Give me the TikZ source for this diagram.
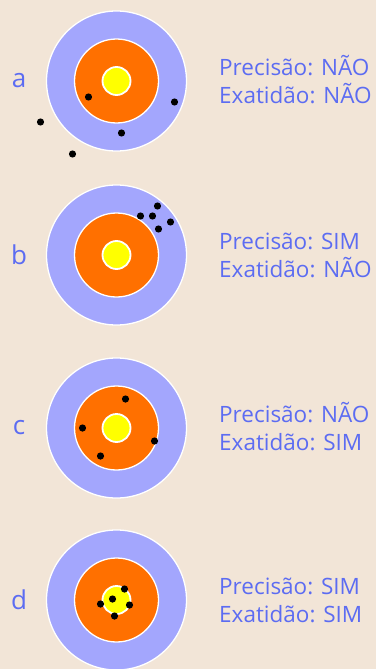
\documentclass[tikz,border=0pt]{standalone}
\usepackage{fontspec}
\setmainfont{Open Sans}
\usetikzlibrary{calc}
\definecolor{bgtan}{HTML}{F2E5D7}
\definecolor{ringblue}{HTML}{A3A6FD}
\definecolor{ringorange}{HTML}{FF7000}
\definecolor{ringyellow}{HTML}{FFFF00}
\definecolor{txtblue}{HTML}{5C6CF2}
\tikzset{
  ring/.style={draw=white,line width=1.3pt},
  hit/.style={fill=black},
  letter/.style={text=txtblue,font=\fontsize{26}{30}\selectfont,inner sep=0pt},
  verdict/.style={text=txtblue,font=\fontsize{22.5}{27}\selectfont,inner sep=0pt,anchor=base west}
}
\begin{document}
\begin{tikzpicture}[x=1pt,y=-1pt]
\fill[bgtan] (0,0) rectangle (376,669);
\useasboundingbox (0,0) rectangle (376,669);
\foreach \j/\l/\p/\e/\b in {81/a/NÃO/NÃO/{-28/16,58/21,5/52,-76/41,-44/73},255/b/SIM/NÃO/{41/-49,24/-39,36/-39,54/-33,42/-26},428/c/NÃO/SIM/{9/-29,-34/0,38/13,-16/28},600/d/SIM/SIM/{8/-11,-4/-1,-16/4,13/5,-2/16}} {
  \coordinate (C-\l) at (116.5,\j);
  \draw[ring,fill=ringblue] (C-\l) circle[radius=70pt];
  \draw[ring,fill=ringorange] (C-\l) circle[radius=42pt];
  \draw[ring,line width=1.8pt,fill=ringyellow] (C-\l) circle[radius=14pt];
  \foreach \dx/\dy in \b {
	\fill[hit] ($(C-\l)+(\dx,\dy)$) circle[radius=3.6pt];
  }
  \node[letter] (L-\l) at (19,\j) {\l};
  \node[verdict] (P-\l) at (219,\j-6) {Precisão: \p};
  \node[verdict] (E-\l) at (219,\j+22) {Exatidão: \e};
}
\end{tikzpicture}
\end{document}
